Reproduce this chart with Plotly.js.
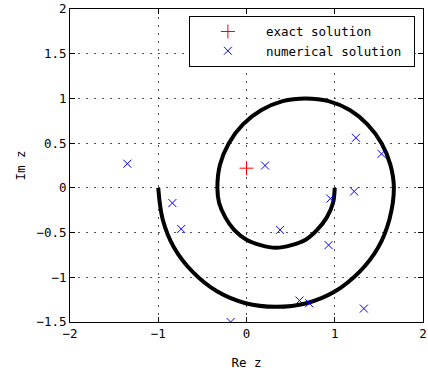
<!DOCTYPE html>
<html>
<head>
<meta charset="utf-8">
<script src="https://cdn.plot.ly/plotly-3.0.1.min.js"></script>
<style>html,body{margin:0;padding:0;background:#fff;}</style>
</head>
<body>
<div id="chart" style="width:428px;height:378px;"></div>
<script>
// Spiral contour
const curveX = [-1.00,-0.95,-0.82,-0.61,-0.33,-0.01,0.33,0.68,1.00,1.28,1.49,1.62,1.67,
                1.63,1.53,1.37,1.17,0.93,0.67,0.41,0.17,-0.04,-0.20,-0.30,-0.33,
                -0.31,-0.24,-0.14,0.00,0.16,0.33,0.51,0.67,0.80,0.91,0.98,1.00];
const curveY = [0.00,-0.35,-0.67,-0.94,-1.16,-1.29,-1.33,-1.29,-1.16,-0.94,-0.67,-0.35,0.00,
                0.26,0.50,0.71,0.87,0.97,1.00,0.97,0.87,0.71,0.50,0.26,0.00,
                -0.17,-0.33,-0.47,-0.58,-0.64,-0.67,-0.64,-0.58,-0.47,-0.33,-0.17,0.00];
// Exact solution
const exactX = [0.00];
const exactY = [0.22];
// Numerical solution
const numX = [-1.35,-0.84,-0.74,0.21,1.24,1.53,1.22,0.95,0.38,0.93,0.60,0.71,1.33,-0.18];
const numY = [0.27,-0.17,-0.46,0.25,0.56,0.38,-0.04,-0.12,-0.47,-0.64,-1.26,-1.29,-1.35,-1.50];
const xTicks = [-2,-1,0,1,2];
const yTicks = [-1.5,-1,-0.5,0,0.5,1,1.5,2];

const FONT = "DejaVu Sans Mono, monospace";

const traces = [
  {x: curveX, y: curveY, mode: 'lines', type: 'scatter', showlegend: false,
   line: {color: '#000', width: 4, shape: 'spline', smoothing: 1}, hoverinfo: 'skip'},
  {x: exactX, y: exactY, mode: 'markers', type: 'scatter', name: 'exact solution\u00a0',
   marker: {symbol: 'cross-thin', size: 10, color: 'red', line: {color: 'red', width: 1}}},
  {x: numX, y: numY, mode: 'markers', type: 'scatter', name: 'numerical solution\u00a0',
   marker: {symbol: 'x-thin', size: 8, color: 'blue', line: {color: 'blue', width: 1}}}
];

const axisCommon = {
  showline: true, linecolor: '#000', linewidth: 1, mirror: 'ticks',
  ticks: 'inside', ticklen: 5, tickcolor: '#000', tickwidth: 1,
  showgrid: true, gridcolor: '#555', griddash: '1.5px,6.5px', gridwidth: 1,
  zeroline: false, tickfont: {family: FONT, size: 12.5, color: '#000'},
  ticklabeloverflow: 'allow'
};

const layout = {
  width: 428, height: 378,
  margin: {l: 70, r: 5, t: 9, b: 56},
  paper_bgcolor: '#fff', plot_bgcolor: '#fff',
  font: {family: FONT, size: 12.5, color: '#000'},
  xaxis: Object.assign({}, axisCommon, {
    range: [-2, 2], tickvals: xTicks, ticktext: xTicks.map(v => String(v).replace('-', '−')),
    title: {text: 'Re z', font: {family: FONT, size: 12.5, color: '#000'}, standoff: 18}
  }),
  yaxis: Object.assign({}, axisCommon, {
    range: [-1.5, 2], tickvals: yTicks, ticktext: yTicks.map(v => String(v).replace('-', '−')),
    title: {text: 'Im z', font: {family: FONT, size: 12.5, color: '#000'}, standoff: 8}
  }),
  legend: {
    x: 0.977, y: 0.978, xanchor: 'right', yanchor: 'top',
    bgcolor: '#fff', bordercolor: '#000', borderwidth: 1,
    font: {family: FONT, size: 12.5, color: '#000'}, itemwidth: 66
  },
  showlegend: true
};

Plotly.newPlot('chart', traces, layout, {displayModeBar: false, staticPlot: true});
</script>
</body>
</html>
